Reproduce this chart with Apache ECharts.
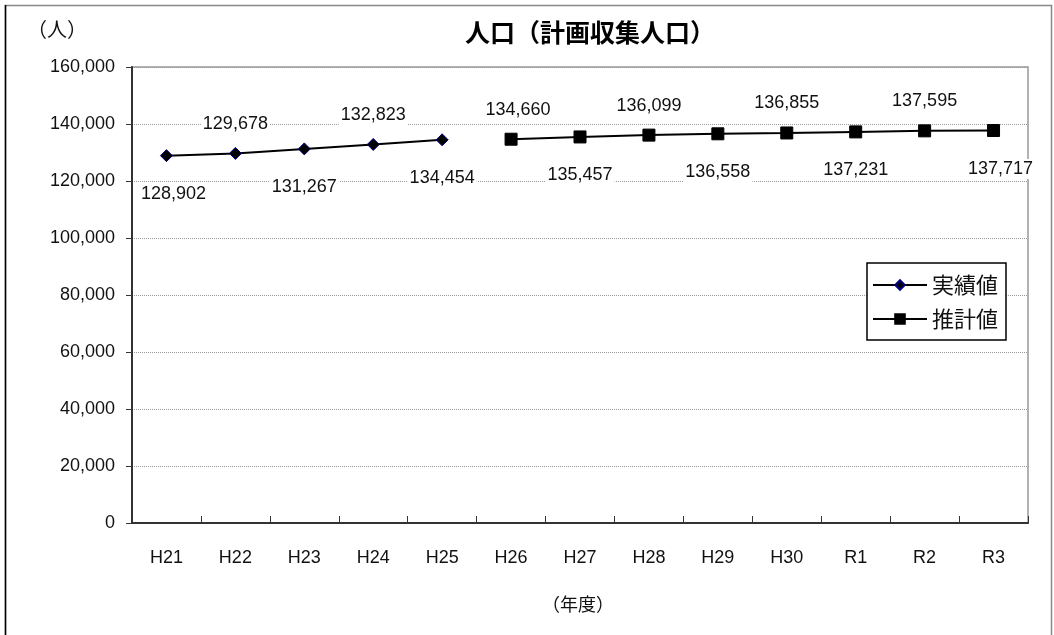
<!DOCTYPE html>
<html>
<head>
<meta charset="utf-8">
<script src="https://cdn.jsdelivr.net/npm/echarts@6/dist/echarts.min.js"></script>
<style>
html,body{margin:0;padding:0;background:#fff;}
#c{width:1054px;height:635px;}
</style>
</head>
<body>
<div id="c"></div>
<script>
const categories = ['H21','H22','H23','H24','H25','H26','H27','H28','H29','H30','R1','R2','R3'];
const actualValues = [128902, 129678, 131267, 132823, 134454];
const forecastValues = [134660, 135457, 136099, 136558, 136855, 137231, 137595, 137717];
const yTicks = { min: 0, max: 160000, interval: 20000 };
const seriesNames = ['実績値', '推計値'];

const NUMFONT = '"Liberation Sans", "Noto Sans CJK JP", sans-serif';
const CJKFONT = '"Noto Sans CJK JP", "Noto Sans", sans-serif';

function buildData(values, offset) {
  const out = categories.map(() => null);
  values.forEach((v, i) => {
    const idx = offset + i;
    const below = idx % 2 === 0;
    const edge = idx === 0 || idx === categories.length - 1 || idx === offset && offset > 0;
    out[idx] = {
      value: v,
      label: {
        position: below ? 'bottom' : 'top',
        distance: below ? 22 : 13,
        offset: edge ? [7, 0] : [0, 0]
      }
    };
  });
  return out;
}

const labelStyle = {
  show: true,
  formatter: p => p.value == null ? '' : Number(p.value).toLocaleString('en-US'),
  fontSize: 18,
  fontFamily: NUMFONT,
  color: '#111',
  backgroundColor: '#fff',
  padding: [1, 2]
};

const chart = echarts.init(document.getElementById('c'), null, { renderer: 'canvas' });
chart.setOption({
  animation: false,
  backgroundColor: '#fff',
  graphic: [
    { type: 'rect', shape: { x: 5.5, y: 5.5, width: 1046, height: 640 }, style: { fill: 'none', stroke: '#888', lineWidth: 1.5 }, silent: true },
    { type: 'line', shape: { x1: 5.5, y1: 5, x2: 5.5, y2: 635 }, style: { stroke: '#000', lineWidth: 1.5 }, silent: true },
    { type: 'text', left: 27, top: 19, style: { text: '（人）', font: '20px ' + CJKFONT, fill: '#111' } },
    { type: 'text', left: 542, top: 595, style: { text: '（年度）', font: '18px ' + CJKFONT, fill: '#111' } }
  ],
  title: {
    text: '人口（計画収集人口）',
    left: 585, top: 15, textAlign: 'center',
    textStyle: { fontSize: 25, fontWeight: 'bold', fontFamily: CJKFONT, color: '#000' }
  },
  legend: {
    left: 867, top: 263,
    orient: 'vertical',
    backgroundColor: '#fff',
    borderColor: '#000', borderWidth: 1.5,
    padding: [11, 8, 10, 5],
    itemGap: 12,
    itemWidth: 54, itemHeight: 12,
    textStyle: { fontSize: 22, fontFamily: CJKFONT, color: '#111' },
    data: seriesNames
  },
  grid: { left: 132, right: 26, top: 67, bottom: 112, show: true, borderColor: '#999', borderWidth: 1.5 },
  xAxis: {
    type: 'category',
    data: categories,
    boundaryGap: true,
    axisLine: { lineStyle: { color: '#333', width: 2 } },
    axisTick: { show: true, inside: true, length: 7, lineStyle: { color: '#333' } },
    axisLabel: { fontSize: 18, fontFamily: NUMFONT, color: '#111', margin: 26 }
  },
  yAxis: {
    type: 'value',
    min: yTicks.min, max: yTicks.max, interval: yTicks.interval,
    axisLine: { show: true, lineStyle: { color: '#333', width: 2 } },
    axisTick: { show: true, length: 6, lineStyle: { color: '#333' } },
    axisLabel: { fontSize: 18, fontFamily: NUMFONT, color: '#111', margin: 17,
      formatter: v => Number(v).toLocaleString('en-US') },
    splitLine: { show: true, lineStyle: { color: '#999', type: 'dotted', width: 1 } }
  },
  series: [
    {
      name: seriesNames[0], type: 'line',
      data: buildData(actualValues, 0),
      symbol: 'diamond', symbolSize: 12,
      itemStyle: { color: '#000', borderColor: '#000080', borderWidth: 1 },
      lineStyle: { color: '#000', width: 2 },
      label: labelStyle,
      z: 3
    },
    {
      name: seriesNames[1], type: 'line',
      data: buildData(forecastValues, actualValues.length),
      symbol: 'rect', symbolSize: 12,
      itemStyle: { color: '#000', borderColor: '#000', borderWidth: 1 },
      lineStyle: { color: '#000', width: 2 },
      label: labelStyle,
      z: 3
    }
  ]
});
</script>
</body>
</html>
